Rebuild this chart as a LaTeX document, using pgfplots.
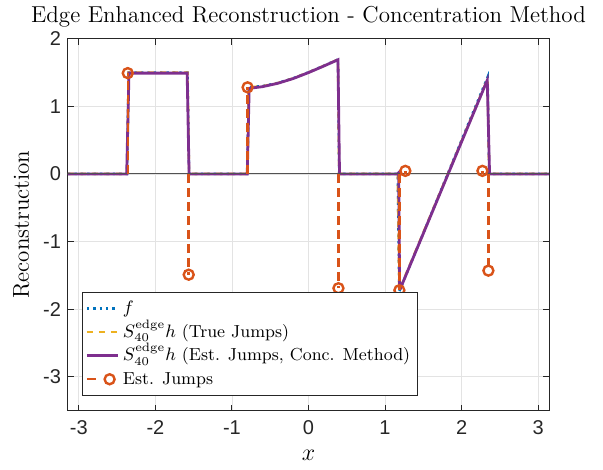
\documentclass[border=0pt]{standalone}
\usepackage{fontspec}
\usepackage{pgfplots}
\pgfplotsset{compat=1.18}
\newfontfamily\ticksf{Liberation Sans}
\definecolor{mblue}{rgb}{0,0.447,0.741}
\definecolor{morange}{rgb}{0.850,0.325,0.098}
\definecolor{myellow}{rgb}{0.929,0.694,0.125}
\definecolor{mpurple}{rgb}{0.494,0.184,0.556}
\definecolor{axgray}{rgb}{0.15,0.15,0.15}

% f sampled on the plotting grid
\pgfplotstableread{
x y
-3.1416 0
-2.370 0
-2.350 1.5
-1.580 1.5
-1.560 0
-0.800 0
-0.780 1.283
-0.600 1.299
-0.400 1.345
-0.200 1.415
0.000 1.503
0.200 1.600
0.385 1.692
0.400 0
1.165 0
1.185 -1.74
2.340 1.435
2.360 0
3.1416 0
}\ftab

% reconstruction with true jumps
\pgfplotstableread{
x y
-3.1416 0
-2.370 0
-2.350 1.5
-1.580 1.5
-1.560 0
-0.800 0
-0.780 1.280
-0.600 1.297
-0.400 1.343
-0.200 1.413
0.000 1.501
0.200 1.598
0.385 1.690
0.400 0
1.165 0
1.185 -1.72
2.338 1.40
2.360 0
3.1416 0
}\ytab

% reconstruction with estimated jumps
\pgfplotstableread{
x y
-3.1416 0
-2.375 0
-2.345 1.49
-1.585 1.49
-1.560 0
-0.800 0
-0.775 1.265
-0.600 1.290
-0.400 1.340
-0.200 1.410
0.000 1.498
0.200 1.595
0.385 1.688
0.405 0
1.160 0
1.178 0.02
1.190 -1.66
1.205 -1.68
2.335 1.385
2.365 0
3.1416 0
}\ptab

% estimated jumps
\pgfplotstableread{
x y
-2.361 1.49
-1.565 -1.49
-0.796 1.28
0.391 -1.69
1.187 -1.72
1.265 0.045
2.272 0.045
2.350 -1.43
}\jtab

\begin{document}
\begin{tikzpicture}
\begin{axis}[
  scale only axis, width=240.5pt, height=186pt,
  xmin=-3.14159, xmax=3.14159, ymin=-3.5, ymax=2,
  xtick={-3,...,3}, ytick={-3,...,2},
  grid=major, major grid style={gray!22, line width=0.4pt},
  tick align=inside, major tick length=3pt,
  axis line style={axgray, line width=0.5pt},
  tick style={axgray, line width=0.5pt},
  ticklabel style={font=\ticksf\fontsize{10}{12}\selectfont, text=axgray},
  xticklabel style={yshift=-1.5pt},
  /pgf/number format/assume math mode=true,
  title={Edge Enhanced Reconstruction - Concentration Method},
  title style={font=\fontsize{11.5}{13}\selectfont, yshift=-4pt},
  xlabel={$x$}, ylabel={Reconstruction},
  label style={font=\fontsize{11.5}{13}\selectfont},
  xlabel style={yshift=-1pt},
  legend image code/.code={\draw[mark repeat=2, mark phase=2, #1]
    plot coordinates {(0cm,0cm) (0.27cm,0cm) (0.54cm,0cm)};},
  legend style={at={(0.029,0.04)}, anchor=south west,
    font=\fontsize{8.7}{10}\selectfont, draw=axgray, line width=0.5pt,
    row sep=-1.2pt, inner sep=1.5pt,
    nodes={text height=7pt, text depth=2pt}},
  legend cell align=left,
]
\addplot[mblue, line width=1.2pt, dotted] table {\ftab};
\addlegendentry{$f$}
\addplot[myellow, line width=1.2pt, dashed] table {\ytab};
\addlegendentry{$S_{40}^{\mathrm{edge}}h$ (True Jumps)}
\addplot[mpurple, line width=1.4pt] table {\ptab};
\addlegendentry{$S_{40}^{\mathrm{edge}}h$ (Est. Jumps, Conc. Method)}
\addplot[axgray!80, line width=0.5pt, forget plot] coordinates {(-3.1416,0) (3.1416,0)};
\addplot[ycomb, morange, line width=1.2pt, dash pattern=on 4.5pt off 2.5pt,
  mark=o, mark size=2.5pt, mark options={solid, line width=1.2pt}, forget plot] table {\jtab};
\addlegendimage{legend image code/.code={
  \draw[morange, line width=1.2pt] (0cm,0cm) -- (0.16cm,0cm);
  \draw[morange, line width=1.2pt] (0.4cm,0cm) circle (2.5pt);}}
\addlegendentry{Est. Jumps}
\end{axis}
\path (current axis.south west) ++(-34pt,-29.5pt) coordinate (bl);
\path (current axis.north east) ++(27pt,17.5pt) coordinate (tr);
\path (bl) rectangle (tr);
\end{tikzpicture}
\end{document}
